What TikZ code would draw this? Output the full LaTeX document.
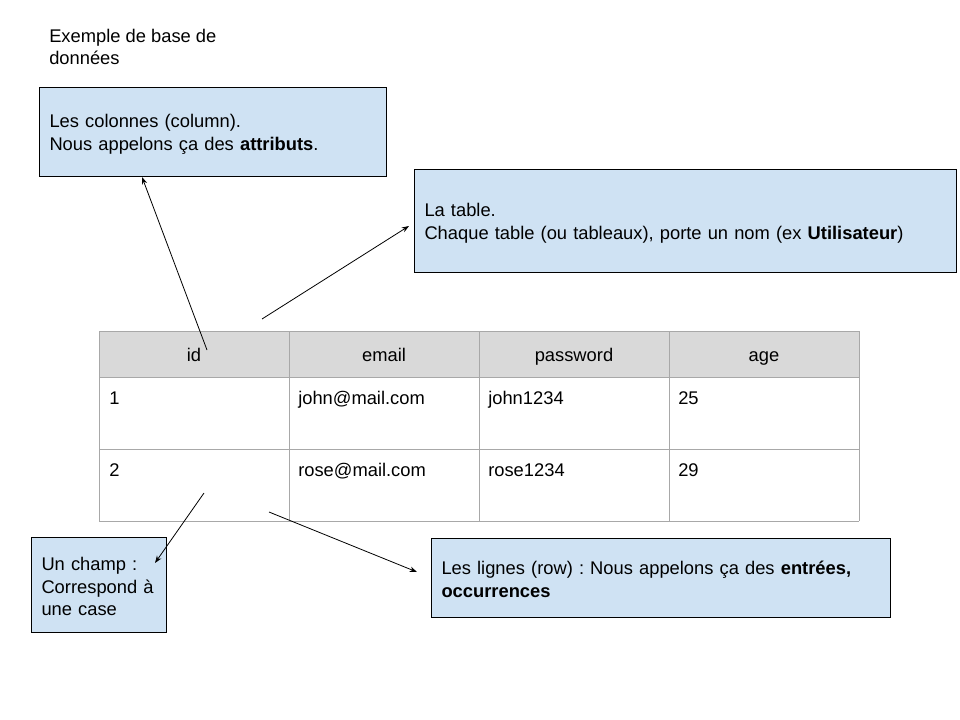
\documentclass[tikz,border=0pt]{standalone}
\usepackage{fontspec}
\setmainfont{Liberation Sans}
\usetikzlibrary{arrows.meta}
\definecolor{boxblue}{HTML}{CFE2F3}
\definecolor{headgray}{HTML}{D9D9D9}
\definecolor{gridgray}{HTML}{A8A8A8}
\newcommand{\lnstrut}{\rule[-0.1em]{0pt}{1.1em}}
\begin{document}
\frenchspacing
\begin{tikzpicture}[x=0.75pt,y=-0.75pt,
  every node/.style={font=\fontsize{13.75}{16.5}\selectfont},
  note/.style={draw=black,line width=0.75pt,fill=boxblue,anchor=north west,align=left,inner xsep=7.5pt,inner ysep=0pt,font=\fontsize{13.75}{17}\selectfont},
  cellhead/.style={anchor=base,inner sep=0pt},
  celltxt/.style={anchor=base west,inner sep=0pt},
  link/.style={draw=black,line width=0.6pt,-{Stealth[length=5.5pt,width=4pt]}},
  gridline/.style={draw=gridgray,line width=0.75pt}]
\useasboundingbox (0,0) rectangle (960,720);

% title
\node[anchor=north west,align=left,inner sep=0pt] (title) at (49,29) {Exemple de base de\\données};

% notes
\node[note,text width=245.25pt,minimum height=66.75pt] (colonnes) at (39,87)
  {\lnstrut Les colonnes (column).\\\lnstrut Nous appelons ça des \textbf{attributs}.};
\node[note,text width=391.5pt,minimum height=77.25pt] (table) at (414,169)
  {\lnstrut La table.\\\lnstrut Chaque table (ou tableaux), porte un nom (ex \textbf{Utilisateur})};
\node[note,text width=86.25pt,minimum height=71.25pt] (champ) at (31,537)
  {\lnstrut Un champ :\\\lnstrut Correspond à\\\lnstrut une case};
\node[note,text width=329.25pt,minimum height=59.25pt] (lignes) at (431,538)
  {\lnstrut Les lignes (row) : Nous appelons ça des \textbf{entrées,}\\\lnstrut\textbf{occurrences}};

% table
\fill[headgray] (99,331) rectangle (859,377);
\foreach \yy in {331,377,449,521} \draw[gridline] (99,\yy) -- (859,\yy);
\foreach \xx in {99,289,479,669,859} \draw[gridline] (\xx,331) -- (\xx,521);

\node[cellhead] (hid) at (194,361.5) {id};
\node[cellhead] (hemail) at (384,361.5) {email};
\node[cellhead] (hpass) at (574,361.5) {password};
\node[cellhead] (hage) at (764,361.5) {age};

\node[celltxt] (c11) at (109,404.5) {1};
\node[celltxt] (c12) at (298,404.5) {john@mail.com};
\node[celltxt] (c13) at (488,404.5) {john1234};
\node[celltxt] (c14) at (678,404.5) {25};
\node[celltxt] (c21) at (109,476.5) {2};
\node[celltxt] (c22) at (298,476.5) {rose@mail.com};
\node[celltxt] (c23) at (488,476.5) {rose1234};
\node[celltxt] (c24) at (678,476.5) {29};

% connector ends
\coordinate (s1) at (207,350);
\coordinate (e1) at (142,177);
\coordinate (s2) at (262,319);
\coordinate (e2) at (409,226);
\coordinate (s3) at (204,493);
\coordinate (e3) at (155,563);
\coordinate (s4) at (269,512);
\coordinate (e4) at (417,572);

\draw[link] (s1) -- (e1);
\draw[link] (s2) -- (e2);
\draw[link] (s3) -- (e3);
\draw[link] (s4) -- (e4);
\end{tikzpicture}
\end{document}
